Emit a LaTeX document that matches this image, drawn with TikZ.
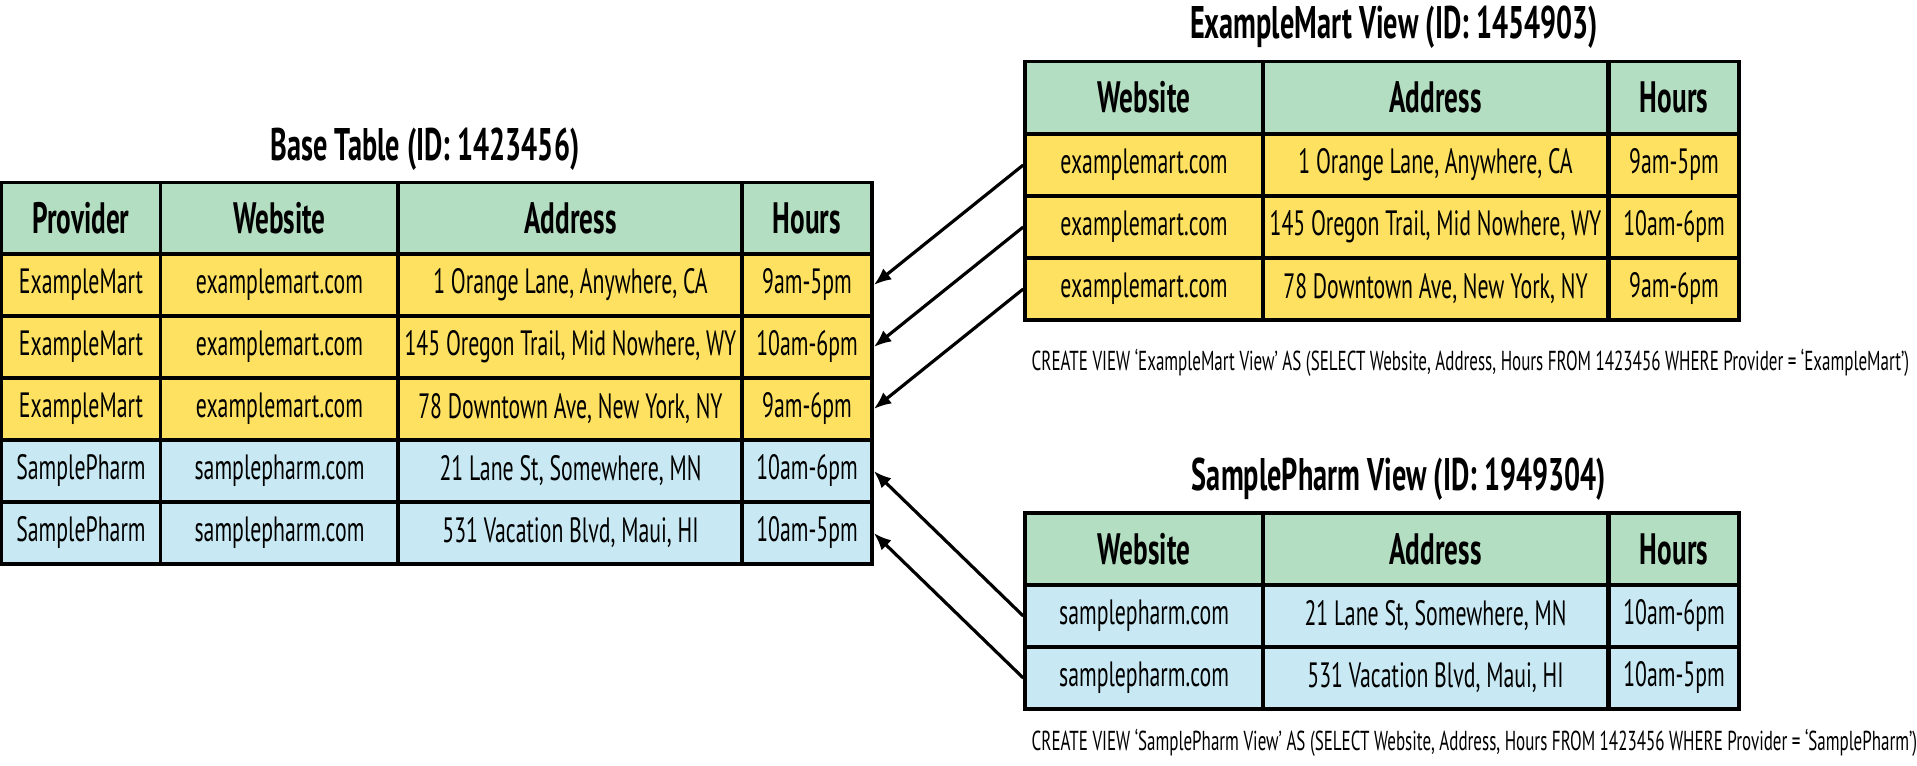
\documentclass[tikz,border=0pt]{standalone}
\usepackage{fontspec}
\setmainfont{PT Sans}[FakeStretch=0.62]
\usetikzlibrary{arrows.meta}
\definecolor{headgreen}{RGB}{180,222,194}
\definecolor{martyellow}{RGB}{254,225,96}
\definecolor{pharmblue}{RGB}{200,233,243}

\begin{document}
\begin{tikzpicture}[
    cell/.style={draw, line width=1pt, inner sep=0pt, minimum height=0.62cm, font=\fontsize{10}{12}\selectfont},
    head/.style={cell, fill=headgreen, minimum height=0.72cm, font=\bfseries\fontsize{12.5}{14}\selectfont},
    mart/.style={cell, fill=martyellow},
    pharm/.style={cell, fill=pharmblue},
    prov/.style={minimum width=1.59cm},
    site/.style={minimum width=2.38cm},
    addr/.style={minimum width=3.445cm},
    hrs/.style={minimum width=1.30cm},
    title/.style={font=\bfseries\fontsize{13}{15}\selectfont},
    query/.style={anchor=west, inner sep=0pt, font=\fontsize{7.8}{9}\selectfont}]

  \useasboundingbox (0,0) rectangle (19.17,-7.66);

  % base table
  \node[title] (btitle) at (4.25,-1.49) {Base Table (ID: 1423456)};

  \node[head, prov] (p0) at (0.81,-2.185)  {Provider};
  \node[head, site] (w0) at (2.795,-2.185) {Website};
  \node[head, addr] (a0) at (5.705,-2.185) {Address};
  \node[head, hrs]  (h0) at (8.07,-2.185)  {Hours};

  \node[mart, prov] (p1) at (0.81,-2.85)  {ExampleMart};
  \node[mart, site] (w1) at (2.795,-2.85) {examplemart.com};
  \node[mart, addr] (a1) at (5.705,-2.85) {1 Orange Lane, Anywhere, CA};
  \node[mart, hrs]  (h1) at (8.07,-2.85)  {9am-5pm};

  \node[mart, prov] (p2) at (0.81,-3.47)  {ExampleMart};
  \node[mart, site] (w2) at (2.795,-3.47) {examplemart.com};
  \node[mart, addr] (a2) at (5.705,-3.47) {145 Oregon Trail, Mid Nowhere, WY};
  \node[mart, hrs]  (h2) at (8.07,-3.47)  {10am-6pm};

  \node[mart, prov] (p3) at (0.81,-4.09)  {ExampleMart};
  \node[mart, site] (w3) at (2.795,-4.09) {examplemart.com};
  \node[mart, addr] (a3) at (5.705,-4.09) {78 Downtown Ave, New York, NY};
  \node[mart, hrs]  (h3) at (8.07,-4.09)  {9am-6pm};

  \node[pharm, prov] (p4) at (0.81,-4.71)  {SamplePharm};
  \node[pharm, site] (w4) at (2.795,-4.71) {samplepharm.com};
  \node[pharm, addr] (a4) at (5.705,-4.71) {21 Lane St, Somewhere, MN};
  \node[pharm, hrs]  (h4) at (8.07,-4.71)  {10am-6pm};

  \node[pharm, prov] (p5) at (0.81,-5.33)  {SamplePharm};
  \node[pharm, site] (w5) at (2.795,-5.33) {samplepharm.com};
  \node[pharm, addr] (a5) at (5.705,-5.33) {531 Vacation Blvd, Maui, HI};
  \node[pharm, hrs]  (h5) at (8.07,-5.33)  {10am-5pm};

  % examplemart view
  \node[title] (etitle) at (13.94,-0.27) {ExampleMart View (ID: 1454903)};

  \node[head, site] (ew0) at (11.44,-0.975)  {Website};
  \node[head, addr] (ea0) at (14.355,-0.975) {Address};
  \node[head, hrs]  (eh0) at (16.74,-0.975)  {Hours};

  \node[mart, site] (ew1) at (11.44,-1.65)  {examplemart.com};
  \node[mart, addr] (ea1) at (14.355,-1.65) {1 Orange Lane, Anywhere, CA};
  \node[mart, hrs]  (eh1) at (16.74,-1.65)  {9am-5pm};

  \node[mart, site] (ew2) at (11.44,-2.27)  {examplemart.com};
  \node[mart, addr] (ea2) at (14.355,-2.27) {145 Oregon Trail, Mid Nowhere, WY};
  \node[mart, hrs]  (eh2) at (16.74,-2.27)  {10am-6pm};

  \node[mart, site] (ew3) at (11.44,-2.89)  {examplemart.com};
  \node[mart, addr] (ea3) at (14.355,-2.89) {78 Downtown Ave, New York, NY};
  \node[mart, hrs]  (eh3) at (16.74,-2.89)  {9am-6pm};

  \node[query] (equery) at (10.31,-3.63) {CREATE VIEW ‘ExampleMart View’ AS (SELECT Website, Address, Hours FROM 1423456 WHERE Provider = ‘ExampleMart’)};

  % samplepharm view
  \node[title] (stitle) at (13.99,-4.79) {SamplePharm View (ID: 1949304)};

  \node[head, site] (sw0) at (11.44,-5.49)  {Website};
  \node[head, addr] (sa0) at (14.355,-5.49) {Address};
  \node[head, hrs]  (sh0) at (16.74,-5.49)  {Hours};

  \node[pharm, site] (sw1) at (11.44,-6.16)  {samplepharm.com};
  \node[pharm, addr] (sa1) at (14.355,-6.16) {21 Lane St, Somewhere, MN};
  \node[pharm, hrs]  (sh1) at (16.74,-6.16)  {10am-6pm};

  \node[pharm, site] (sw2) at (11.44,-6.78)  {samplepharm.com};
  \node[pharm, addr] (sa2) at (14.355,-6.78) {531 Vacation Blvd, Maui, HI};
  \node[pharm, hrs]  (sh2) at (16.74,-6.78)  {10am-5pm};

  \node[query] (squery) at (10.31,-7.43) {CREATE VIEW ‘SamplePharm View’ AS (SELECT Website, Address, Hours FROM 1423456 WHERE Provider = ‘SamplePharm’)};

  % view rows point back at the base rows
  \begin{scope}[every edge/.style={draw, line width=0.9pt, -{Latex[length=5pt, width=4pt]}}]
    \path (ew1.west) edge (h1.east);
    \path (ew2.west) edge (h2.east);
    \path (ew3.west) edge (h3.east);
    \path (sw1.west) edge (h4.east);
    \path (sw2.west) edge (h5.east);
  \end{scope}

\end{tikzpicture}
\end{document}
